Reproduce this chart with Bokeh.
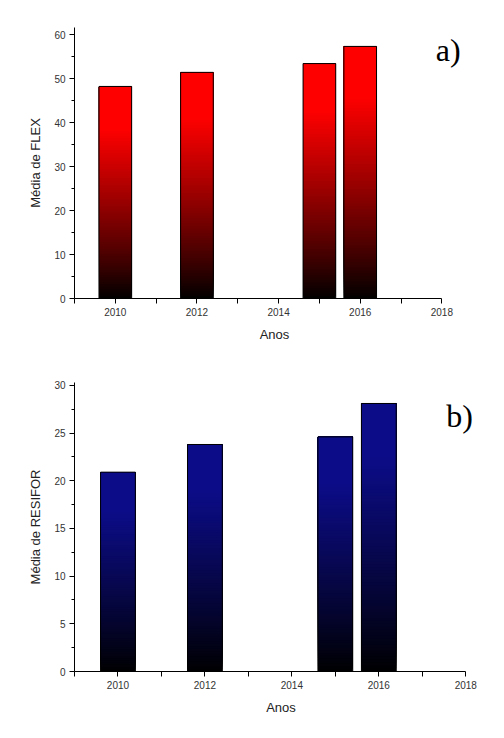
import numpy as np
from bokeh.plotting import figure
from bokeh.layouts import column
from bokeh.models import ColumnDataSource, FixedTicker, Label, Range1d
from bokeh.embed import file_html
from bokeh.resources import INLINE

# ---- data ----
anos = [2010, 2012, 2015, 2016]
media_flex = [48.2, 51.4, 53.4, 57.3]
media_resifor = [20.9, 23.8, 24.6, 28.1]

x_ticks = [2010, 2012, 2014, 2016, 2018]
x_minor = [2009, 2011, 2013, 2015, 2017]
flex_ticks = [0, 10, 20, 30, 40, 50, 60]
flex_minor = [5, 15, 25, 35, 45, 55]
resifor_ticks = [0, 5, 10, 15, 20, 25, 30]
resifor_minor = [2.5, 7.5, 12.5, 17.5, 22.5, 27.5]

FONT = "Liberation Sans"


def hex_mix(rgb_top, t):
    r, g, b = (int(round(c * t)) for c in rgb_top)
    return "#%02x%02x%02x" % (r, g, b)


def gradient_bars(p, xs, vals, rgb_top, width=0.8, n=90):
    # each layer runs from its own start up to the bar top; later (brighter)
    # layers cover the upper part of earlier ones -> a smooth vertical gradient
    L, R, B, T, C = [], [], [], [], []
    for x, v in zip(xs, vals):
        for i in range(n):
            t = (i + 0.5) / n
            L.append(x - width / 2)
            R.append(x + width / 2)
            B.append(v * i / n)
            T.append(v)
            C.append(hex_mix(rgb_top, min(1.0, 1.25 * t) ** 0.9))
    src = ColumnDataSource(dict(left=L, right=R, bottom=B, top=T, color=C))
    p.quad(left="left", right="right", bottom="bottom", top="top", source=src,
           fill_color="color", line_color=None)
    p.vbar(x=xs, top=vals, width=width, bottom=0, fill_color=None,
           line_color="black", line_width=1)


def style(p, yticks, yminor, xlabel, ylabel):
    p.xaxis.ticker = FixedTicker(ticks=x_ticks, minor_ticks=x_minor)
    p.yaxis.ticker = FixedTicker(ticks=yticks, minor_ticks=yminor)
    p.xaxis.bounds = (2009, 2018)
    p.xgrid.visible = False
    p.ygrid.visible = False
    p.outline_line_color = None
    p.background_fill_color = "white"
    p.border_fill_color = "white"
    for ax in (p.xaxis, p.yaxis):
        ax.axis_line_color = "black"
        ax.axis_line_width = 1
        ax.major_tick_line_color = "black"
        ax.minor_tick_line_color = "black"
        ax.major_tick_in = 0
        ax.minor_tick_in = 0
        ax.major_label_text_font = FONT
        ax.major_label_text_font_size = "10px"
        ax.major_label_text_color = "#333333"
        ax.axis_label_text_font = FONT
        ax.axis_label_text_font_size = "13px"
        ax.axis_label_text_font_style = "normal"
        ax.axis_label_text_color = "#222222"
    p.xaxis.major_tick_out = 5
    p.xaxis.minor_tick_out = 5
    p.yaxis.major_tick_out = 5
    p.yaxis.minor_tick_out = 3
    p.xaxis.major_label_standoff = 4
    p.yaxis.major_label_standoff = 4
    p.xaxis.axis_label_standoff = 8
    p.yaxis.axis_label_standoff = 8
    p.xaxis.axis_label = xlabel
    p.yaxis.axis_label = ylabel


# ---- panel a ----
p1 = figure(output_backend="svg", toolbar_location=None,
            frame_width=400, frame_height=271,
            min_border_left=74, min_border_right=20,
            min_border_top=27, min_border_bottom=62,
            x_range=Range1d(2009, 2018.8), y_range=Range1d(0, 61.6))
gradient_bars(p1, anos, media_flex, (255, 0, 0))
style(p1, flex_ticks, flex_minor, "Anos", "Média de FLEX")
p1.add_layout(Label(x=2017.85, y=56.5, text="a)", text_font="Liberation Serif",
                    text_font_size="32px", text_color="black",
                    text_baseline="middle", text_align="left"))

# ---- panel b ----
p2 = figure(output_backend="svg", toolbar_location=None,
            frame_width=413, frame_height=289,
            min_border_left=72, min_border_right=8,
            min_border_top=22, min_border_bottom=58,
            x_range=Range1d(2009, 2018.5), y_range=Range1d(0, 30.3))
gradient_bars(p2, anos, media_resifor, (12, 12, 136))
style(p2, resifor_ticks, resifor_minor, "Anos", "Média de RESIFOR")
p2.add_layout(Label(x=2017.55, y=26.8, text="b)", text_font="Liberation Serif",
                    text_font_size="32px", text_color="black",
                    text_baseline="middle", text_align="left"))

layout = column(p1, p2, spacing=0)
open("out.html", "w").write(file_html(layout, INLINE))
